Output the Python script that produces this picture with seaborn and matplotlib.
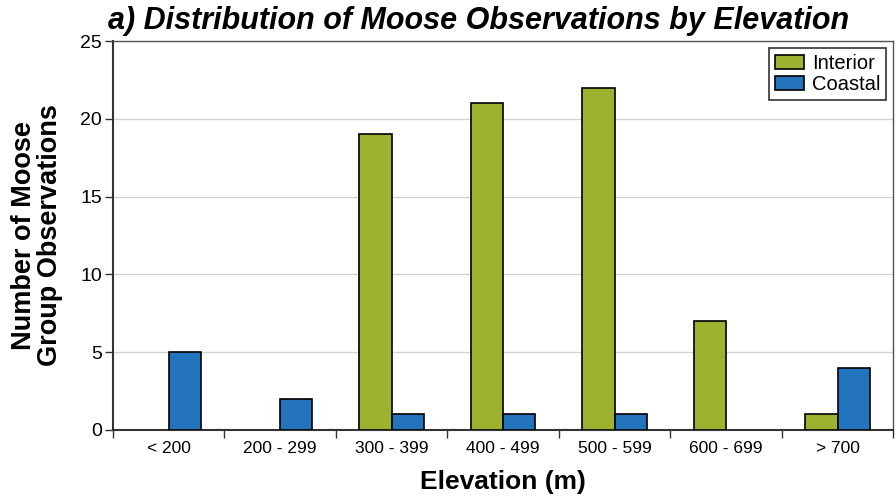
import numpy as np
import pandas as pd
import matplotlib
matplotlib.use("Agg")
import matplotlib.pyplot as plt
import seaborn as sns

# ── data ──
elevations = ["< 200", "200 - 299", "300 - 399", "400 - 499",
              "500 - 599", "600 - 699", "> 700"]
interior = [0, 0, 19, 21, 22, 7, 1]
coastal = [5, 2, 1, 1, 1, 0, 4]
regions = ["Interior", "Coastal"]
colors = ["#9db22f", "#2473bd"]

df = pd.DataFrame({
    "Elevation": elevations * 2,
    "Count": interior + coastal,
    "Region": [regions[0]] * len(elevations) + [regions[1]] * len(elevations),
})

sns.set_theme(style="white")
plt.rcParams["font.family"] = ["Liberation Sans", "DejaVu Sans"]
plt.rcParams.update({"text.color": "black", "axes.labelcolor": "black",
                     "xtick.color": "black", "ytick.color": "black"})

fig = plt.figure(figsize=(8.96, 5), dpi=100)
ax = fig.add_axes([0.126, 0.14, 0.871, 0.778])

sns.barplot(data=df, x="Elevation", y="Count", hue="Region",
            order=elevations, hue_order=regions, palette=colors,
            width=0.58, edgecolor="black", linewidth=1.2,
            saturation=1, ax=ax, zorder=3)

ax.set_ylim(0, 25)
ax.set_xlim(-0.5, len(elevations) - 0.5)
ax.set_yticks(range(0, 26, 5))
ax.yaxis.grid(True, color="#d4d4d4", linewidth=1, zorder=0)
ax.set_axisbelow(True)

# x ticks sit between categories, labels at centres
ax.set_xticks(np.arange(len(elevations) + 1) - 0.5, minor=False)
ax.set_xticklabels([])
ax.set_xticks(np.arange(len(elevations)), minor=True)
ax.set_xticklabels(elevations, minor=True, fontsize=12.5)
ax.tick_params(axis="x", which="major", direction="out", length=6,
               width=1, color="#333333", bottom=True)
ax.tick_params(axis="x", which="minor", length=0, pad=8)
ax.tick_params(axis="y", direction="out", length=6, width=1,
               color="#333333", labelsize=14, left=True, pad=2)

for side in ["left", "bottom"]:
    ax.spines[side].set_color("#333333")
    ax.spines[side].set_linewidth(1.5)
for side in ["top", "right"]:
    ax.spines[side].set_color("#555555")
    ax.spines[side].set_linewidth(1.0)

ax.set_xlabel("Elevation (m)", fontsize=19, fontweight="bold", labelpad=10)
ax.set_ylabel("Number of Moose\nGroup Observations", fontsize=19.5,
              fontweight="bold", labelpad=12, linespacing=1.0)

leg = ax.legend(loc="upper right", fontsize=14.5, frameon=True, fancybox=False,
                edgecolor="#333333", framealpha=1, borderpad=0.3,
                handlelength=1.4, handleheight=0.7, handletextpad=0.4,
                labelspacing=0.1, borderaxespad=0.35)
leg.get_frame().set_linewidth(1.2)
leg.set_title(None)

# empty bins: no outline stub on the baseline
for bar in ax.patches:
    if bar.get_height() == 0:
        bar.set_linewidth(0)

fig.text(0.12, 0.958, "a) Distribution of Moose Observations by Elevation",
         fontsize=22, fontweight="bold", fontstyle="italic", va="center")

plt.savefig("out.png", dpi=100)
